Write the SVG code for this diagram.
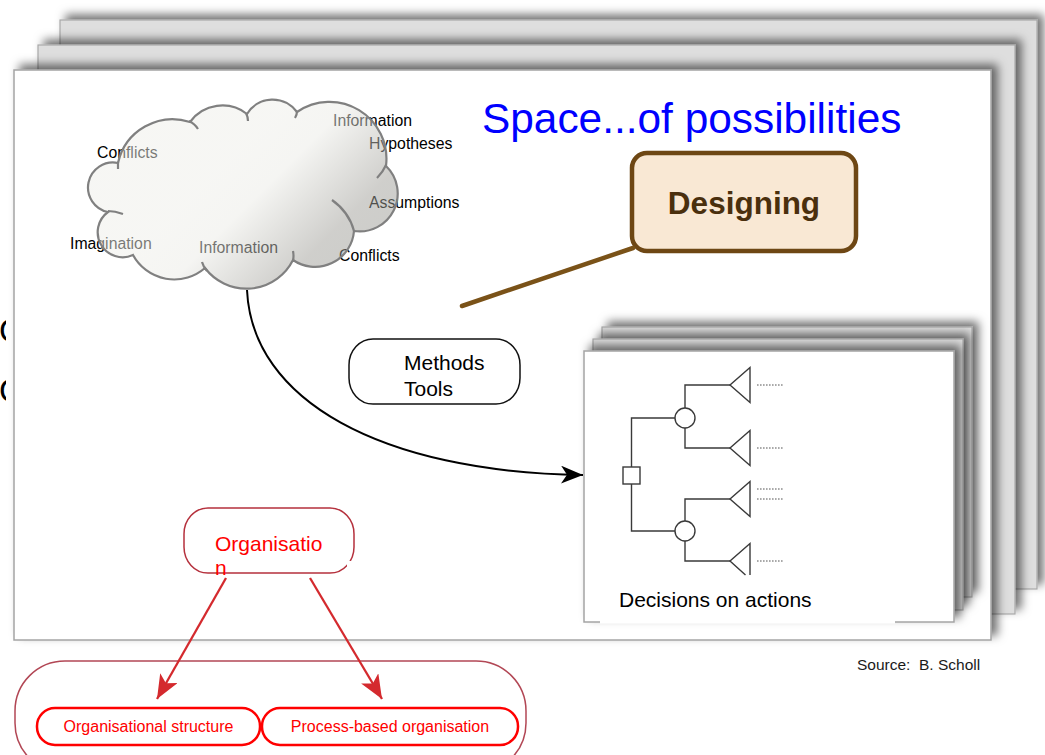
<svg xmlns="http://www.w3.org/2000/svg" width="1045" height="755" viewBox="0 0 1045 755">
  <defs>
    <style>
      .page-back { fill: #dedede; stroke: #a8a8a8; stroke-width: 1.2; }
      .page-front { fill: #ffffff; stroke: #a4a4a4; stroke-width: 1.5; }
      .sans { font-family: "Liberation Sans", Arial, sans-serif; }
      .cloud-label { font-family: "Liberation Sans", Arial, sans-serif; font-size: 15.8px; fill: #000; }
      .tree { fill: none; stroke: #3a3a3a; stroke-width: 1.4; }
      .dots { fill: none; stroke: #555; stroke-width: 1; stroke-dasharray: 1.6 1.4; }
      .red-pill { fill: #fff; stroke: #ff0000; stroke-width: 2.5; }
      .red-text { font-family: "Liberation Sans", Arial, sans-serif; fill: #ff0000; }
      .red-arrow { fill: none; stroke: #d42a2e; stroke-width: 2.3; }
    </style>
    <filter id="pageShadow" x="-6%" y="-12%" width="114%" height="124%">
      <feGaussianBlur in="SourceAlpha" stdDeviation="5"/>
      <feOffset dx="6" dy="-5" result="blurred"/>
      <feFlood flood-color="#000" flood-opacity="0.55"/>
      <feComposite in2="blurred" operator="in"/>
      <feMerge>
        <feMergeNode/>
        <feMergeNode in="SourceGraphic"/>
      </feMerge>
    </filter>
    <linearGradient id="cloudFill" gradientUnits="userSpaceOnUse" x1="195" y1="195" x2="320" y2="320">
      <stop offset="0" stop-color="#eeeee9"/>
      <stop offset="0.25" stop-color="#ebebe6"/>
      <stop offset="0.7" stop-color="#a09f99"/>
      <stop offset="1" stop-color="#9a9a94"/>
    </linearGradient>
    <marker id="arrowBlack" markerUnits="userSpaceOnUse" markerWidth="24" markerHeight="20" refX="22" refY="9" orient="auto">
      <path d="M0,0 L22,9 L0,18 L6,9 z" fill="#000"/>
    </marker>
    <marker id="arrowRed" markerUnits="userSpaceOnUse" markerWidth="26" markerHeight="22" refX="24" refY="10" orient="auto">
      <path d="M0,0 L24,10 L0,20 L6,10 z" fill="#d42a2e"/>
    </marker>
    <clipPath id="edgeClip">
      <rect x="0" y="280" width="6" height="140"/>
    </clipPath>
  </defs>

  <rect width="1045" height="755" fill="#ffffff"/>

  <!-- partially hidden letters at the left margin -->
  <g id="edge-fragments" clip-path="url(#edgeClip)" class="sans" font-size="33" fill="#000">
    <text x="-1" y="342">C</text>
    <text x="-1" y="402">C</text>
  </g>

  <!-- main stack of sheets -->
  <g id="sheet-stack">
    <rect class="page-back" x="60" y="20" width="977" height="569" filter="url(#pageShadow)"/>
    <rect class="page-back" x="38" y="45" width="977" height="569" filter="url(#pageShadow)"/>
    <rect class="page-front" x="14" y="70" width="977" height="570" filter="url(#pageShadow)"/>
  </g>

  <g id="title">
    <text class="sans" x="482" y="133" font-size="42.4" fill="#0000ff">Space...of possibilities</text>
  </g>

  <!-- cloud of ideas: labels first, translucent cloud on top -->
  <g id="cloud">
    <text class="cloud-label" x="333" y="126">Information</text>
    <text class="cloud-label" x="369" y="149">Hypotheses</text>
    <text class="cloud-label" x="97" y="158">Conflicts</text>
    <text class="cloud-label" x="369" y="208">Assumptions</text>
    <text class="cloud-label" x="70" y="249">Imagination</text>
    <text class="cloud-label" x="199" y="253">Information</text>
    <text class="cloud-label" x="339" y="261">Conflicts</text>
    <path d="M118,163
             A56,56 0 0 1 190,122
             A40,40 0 0 1 247,114
             A30,30 0 0 1 297,112
             A57,57 0 0 1 386,166
             A38,38 0 0 1 354,231
             A39,39 0 0 1 293,260
             A52,52 0 0 1 205,268
             A47,47 0 0 1 133,255
             A25,25 0 0 1 108,212
             A25,25 0 0 1 118,163 Z"
          fill="url(#cloudFill)" fill-opacity="0.5" stroke="#808080" stroke-width="2.2"/>
    <path d="M118,169 L118,162 M189,121 Q195,124 198,129 M246,113 Q248,117 248,121 M297,111 Q297,115 295,118
             M386,165 Q383,172 377,178 M332,200 Q349,212 354,231 M293,251 Q294,256 293,261
             M207,271 Q203,266 202,262 M123,214 Q115,211 108,211"
          fill="none" stroke="#808080" stroke-width="2.2"/>
  </g>

  <g id="designing">
    <rect x="632" y="153" width="224" height="98" rx="15" fill="#f9e8d4" stroke="#6e4714" stroke-width="4.5"/>
    <text class="sans" x="744" y="214" font-size="31.5" font-weight="bold" fill="#4a2f0d" text-anchor="middle">Designing</text>
  </g>

  <g id="methods-tools">
    <rect x="349" y="339" width="171" height="65" rx="24" ry="26" fill="#fff" stroke="#111" stroke-width="1.5"/>
    <text class="sans" font-size="21" fill="#000"><tspan x="404" y="370">Methods</tspan><tspan x="404" y="396">Tools</tspan></text>
  </g>

  <!-- stack of decision sheets -->
  <g id="decisions">
    <rect class="page-back" x="602" y="327" width="370" height="270" filter="url(#pageShadow)"/>
    <rect class="page-back" x="593" y="339" width="370" height="271" filter="url(#pageShadow)"/>
    <rect class="page-front" x="584" y="351" width="370" height="271" filter="url(#pageShadow)"/>
    <rect x="600" y="620.5" width="295" height="3" fill="#fff"/>
    <rect class="tree" x="623" y="467" width="17" height="17" fill="#fff"/>
    <path class="tree" d="M631.5,467 V418 H675 M631.5,484 V531 H675
                          M685,408 V385 H730 M685,428 V448 H730
                          M685,521 V499 H730 M685,541 V561 H730"/>
    <circle class="tree" cx="685" cy="418" r="10"/>
    <circle class="tree" cx="685" cy="531" r="10"/>
    <path class="tree" d="M750,367.5 L730,385 L750,402.5 Z M750,430.5 L730,448 L750,465.5 Z
                          M750,481.5 L730,499 L750,516.5 Z M750,575 V543.5 L730,561 L745.5,575"/>
    <path class="dots" d="M757,385 H783 M757,448 H783 M757,489 H783 M757,499 H783 M757,561 H783"/>
    <text class="sans" x="619" y="607" font-size="21" fill="#000">Decisions on actions</text>
  </g>

  <g id="organisation">
    <rect x="184" y="508" width="170" height="65" rx="24" ry="26" fill="#fff" stroke="#b5313d" stroke-width="1.5"/>
    <rect x="347" y="561" width="9" height="10" fill="#fff"/>
    <text class="red-text" font-size="21"><tspan x="215" y="551">Organisatio</tspan><tspan x="215" y="575">n</tspan></text>
  </g>

  <g id="organisation-forms">
    <rect x="15" y="661" width="511" height="112" rx="50" ry="50" fill="none" stroke="#b24755" stroke-width="1.5"/>
    <g id="org-structure">
      <rect class="red-pill" x="37" y="708" width="223" height="37" rx="18"/>
      <text class="red-text" x="148.5" y="732" font-size="16" text-anchor="middle">Organisational structure</text>
    </g>
    <g id="process-organisation">
      <rect class="red-pill" x="262" y="708" width="256" height="37" rx="18"/>
      <text class="red-text" x="390" y="732" font-size="16" text-anchor="middle">Process-based organisation</text>
    </g>
  </g>

  <g id="connectors">
    <path d="M247,290 C252,400 380,472 583,475" fill="none" stroke="#000" stroke-width="2" marker-end="url(#arrowBlack)"/>
    <line x1="462" y1="306" x2="633" y2="248" stroke="#7a5218" stroke-width="4.5" stroke-linecap="round"/>
    <line class="red-arrow" x1="226" y1="578" x2="157" y2="699" marker-end="url(#arrowRed)"/>
    <line class="red-arrow" x1="310" y1="578" x2="382" y2="699" marker-end="url(#arrowRed)"/>
  </g>

  <g id="source">
    <text class="sans" x="857" y="670" font-size="15.5" fill="#1a1a1a" xml:space="preserve">Source:  B. Scholl</text>
  </g>
</svg>
